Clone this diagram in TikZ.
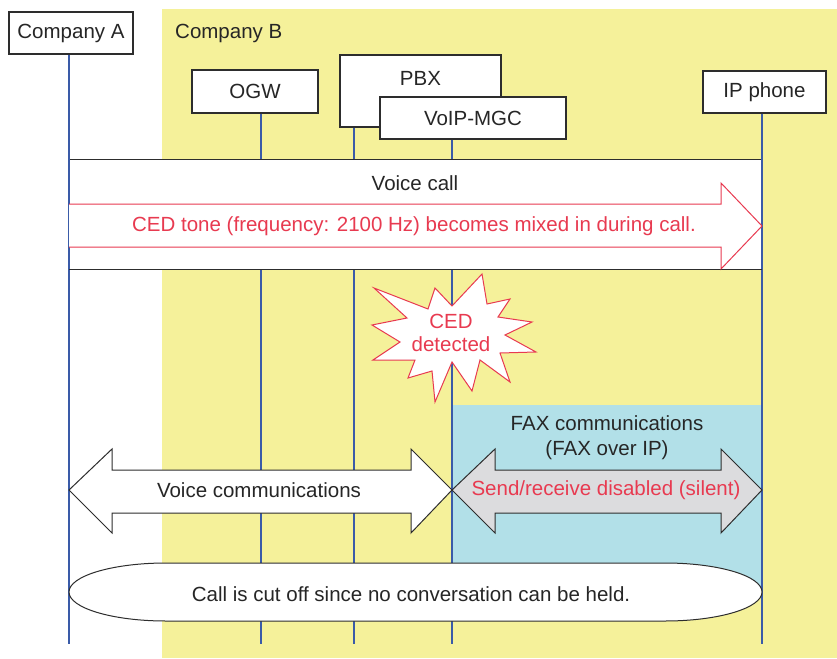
\documentclass[tikz,border=0pt]{standalone}
\usepackage{fontspec}
\setmainfont{Liberation Sans}
\definecolor{zoneB}{RGB}{245,241,154}
\definecolor{faxzone}{RGB}{178,224,232}
\definecolor{lifeblue}{RGB}{58,91,168}
\definecolor{edge}{RGB}{45,45,45}
\definecolor{alert}{RGB}{232,58,80}
\definecolor{mute}{RGB}{220,220,222}
\tikzset{
  devbox/.style={draw=edge, fill=white, line width=1.2pt, inner sep=0pt},
  lifeline/.style={draw=lifeblue, line width=1.1pt},
  outline/.style={draw=edge, line width=1pt},
  redtext/.style={text=alert},
}
\begin{document}
\begin{tikzpicture}[x=1pt, y=-1pt, font=\fontsize{20.5}{24}\selectfont, text=black!85]
\useasboundingbox (0,0) rectangle (837,658);
\fill[white] (0,0) rectangle (837,658);
% company B domain
\fill[zoneB] (162,9) rectangle (837,658);
\node[anchor=west, inner sep=0pt] (cb) at (175,33) {Company B};
% FAX over IP area
\fill[faxzone] (452,405) rectangle (762,592);

% devices
\node[devbox, minimum width=124, minimum height=42] (ca) at (71,33) {Company A};
\node[devbox, minimum width=126, minimum height=43] (ogw) at (255,91.5) {OGW};
\node[devbox, minimum width=161, minimum height=72] (pbx) at (420.5,91) {};
\node[inner sep=0pt] (pbxt) at (420.5,78) {PBX};
\node[devbox, minimum width=186, minimum height=42] (mgc) at (473,118) {VoIP-MGC};
\node[devbox, minimum width=123, minimum height=42] (ipp) at (764.5,92) {IP phone};

% lifeline ends
\coordinate (ea) at (69,644);
\coordinate (eo) at (261,644);
\coordinate (ep) at (354,644);
\coordinate (em) at (452,644);
\coordinate (ei) at (762,644);
\draw[lifeline] (ca.south -| ea) -- (ea);
\draw[lifeline] (ogw.south -| eo) -- (eo);
\draw[lifeline] (pbx.south -| ep) -- (ep);
\draw[lifeline] (mgc.south -| em) -- (em);
\draw[lifeline] (ipp.south -| ei) -- (ei);

% voice call
\fill[white] (69,159) rectangle (762,269);
\draw[outline] (69,159) -- (762,159) (69,269) -- (762,269);
\draw[lifeline] (69,159) -- (69,269) (762,159) -- (762,269);
\node (vc) at (415,183) {Voice call};
\draw[draw=alert, fill=white, line width=1pt, line join=miter]
  (69,204) -- (721,204) -- (721,183) -- (762,226) -- (721,269) -- (721,247) -- (69,247);
\node[redtext] (ced) at (414,226) {CED tone (frequency: 2100 Hz) becomes mixed in during call.};

% CED detection burst
\draw[draw=alert, fill=white, line width=1pt, line join=miter]
  (374,288) -- (428,309) -- (435,288) -- (452,306) -- (482,274) -- (487,304)
  -- (510,299) -- (498,317) -- (532,322) -- (505,335) -- (536,352) -- (500,353)
  -- (510,382) -- (480,360) -- (472,391) -- (452,362) -- (435,402) -- (432,371)
  -- (408,378) -- (415,360) -- (373,360) -- (400,342) -- (372,325) -- (407,318) -- cycle;
\node[redtext, align=center, font=\fontsize{20.5}{23.5}\selectfont] (det) at (451,333) {CED\\detected};

% voice communications
\draw[outline, fill=white, line join=miter]
  (69,490) -- (112,449) -- (112,470) -- (411,470) -- (411,449) -- (452,490)
  -- (411,533) -- (411,513) -- (112,513) -- (112,533) -- cycle;
\node (voice) at (259,490) {Voice communications};

% FAX communications
\node[align=center, font=\fontsize{20.5}{25}\selectfont] (fax) at (607,437.5) {FAX communications\\(FAX over IP)};
\draw[outline, fill=mute, line join=miter]
  (452,490) -- (495,449) -- (495,470) -- (721,470) -- (721,449) -- (762,490)
  -- (721,533) -- (721,513) -- (495,513) -- (495,533) -- cycle;
\node[redtext] (silent) at (606,490) {Send/receive disabled (silent)};

% disconnection
\draw[outline, fill=white]
  (166,563) -- (665,563) arc[start angle=-90, end angle=90, x radius=97, y radius=29]
  -- (166,621) arc[start angle=90, end angle=270, x radius=97, y radius=29] -- cycle;
\node (cut) at (411,594) {Call is cut off since no conversation can be held.};
\end{tikzpicture}
\end{document}
